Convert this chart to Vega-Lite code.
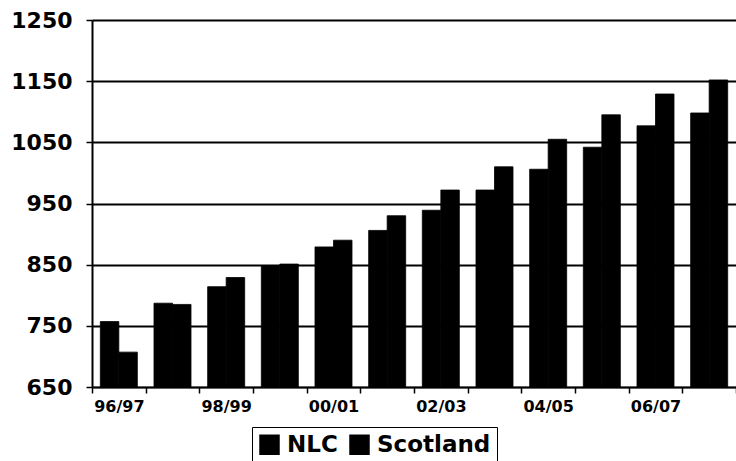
{
  "$schema": "https://vega.github.io/schema/vega-lite/v6.json",
  "width": 644,
  "height": 367,
  "autosize": {"type": "none"},
  "padding": {"left": 92, "top": 20, "right": 0, "bottom": 74},
  "background": "white",
  "data": {
    "values": [
      {"year": "96/97", "area": "NLC", "value": 757},
      {"year": "96/97", "area": "Scotland", "value": 707},
      {"year": "97/98", "area": "NLC", "value": 787},
      {"year": "97/98", "area": "Scotland", "value": 785},
      {"year": "98/99", "area": "NLC", "value": 814},
      {"year": "98/99", "area": "Scotland", "value": 829},
      {"year": "99/00", "area": "NLC", "value": 848},
      {"year": "99/00", "area": "Scotland", "value": 851},
      {"year": "00/01", "area": "NLC", "value": 879},
      {"year": "00/01", "area": "Scotland", "value": 890},
      {"year": "01/02", "area": "NLC", "value": 906},
      {"year": "01/02", "area": "Scotland", "value": 930},
      {"year": "02/03", "area": "NLC", "value": 939},
      {"year": "02/03", "area": "Scotland", "value": 972},
      {"year": "03/04", "area": "NLC", "value": 972},
      {"year": "03/04", "area": "Scotland", "value": 1010},
      {"year": "04/05", "area": "NLC", "value": 1006},
      {"year": "04/05", "area": "Scotland", "value": 1055},
      {"year": "05/06", "area": "NLC", "value": 1042},
      {"year": "05/06", "area": "Scotland", "value": 1095},
      {"year": "06/07", "area": "NLC", "value": 1077},
      {"year": "06/07", "area": "Scotland", "value": 1129},
      {"year": "07/08", "area": "NLC", "value": 1098},
      {"year": "07/08", "area": "Scotland", "value": 1152}
    ]
  },
  "mark": {"type": "bar", "clip": true, "stroke": "black", "strokeWidth": 0.8},
  "encoding": {
    "x": {
      "field": "year",
      "type": "nominal",
      "sort": null,
      "scale": {"paddingInner": 0, "paddingOuter": 0},
      "axis": {
        "title": null,
        "labelAngle": 0,
        "labelFont": "DejaVu Sans",
        "labelFontWeight": "bold",
        "labelFontSize": 16,
        "labelColor": "black",
        "labelPadding": 5,
        "tickBand": "extent",
        "tickSize": 6,
        "tickColor": "black",
        "tickWidth": 1.5,
        "domainColor": "black",
        "domainWidth": 1.5,
        "grid": false,
        "labelExpr": "indexof(['96/97','98/99','00/01','02/03','04/05','06/07'], datum.value) >= 0 ? datum.label : ''"
      }
    },
    "xOffset": {
      "field": "area",
      "sort": ["NLC", "Scotland"],
      "scale": {"paddingInner": 0, "paddingOuter": 0.45}
    },
    "y": {
      "field": "value",
      "type": "quantitative",
      "scale": {"domain": [650, 1250], "nice": false, "zero": false},
      "axis": {
        "title": null,
        "format": "d",
        "values": [650, 750, 850, 950, 1050, 1150, 1250],
        "labelFont": "DejaVu Sans",
        "labelFontWeight": "bold",
        "labelFontSize": 22,
        "labelColor": "black",
        "labelPadding": 14,
        "tickSize": 6,
        "tickColor": "black",
        "tickWidth": 1.5,
        "domainColor": "black",
        "domainWidth": 2,
        "grid": true,
        "gridColor": "black",
        "gridWidth": 2,
        "gridOpacity": 1
      }
    },
    "color": {
      "field": "area",
      "type": "nominal",
      "scale": {"domain": ["NLC", "Scotland"], "range": ["#000000", "#000000"]},
      "legend": {
        "title": null,
        "orient": "none",
        "legendX": 160,
        "legendY": 407,
        "direction": "horizontal",
        "strokeColor": "black",
        "padding": 6,
        "symbolType": "square",
        "symbolSize": 420,
        "symbolStrokeWidth": 0,
        "labelFont": "DejaVu Sans",
        "labelFontWeight": "bold",
        "labelFontSize": 23,
        "labelColor": "black",
        "labelOffset": 6,
        "columnPadding": 10
      }
    }
  },
  "config": {"view": {"stroke": null}}
}
